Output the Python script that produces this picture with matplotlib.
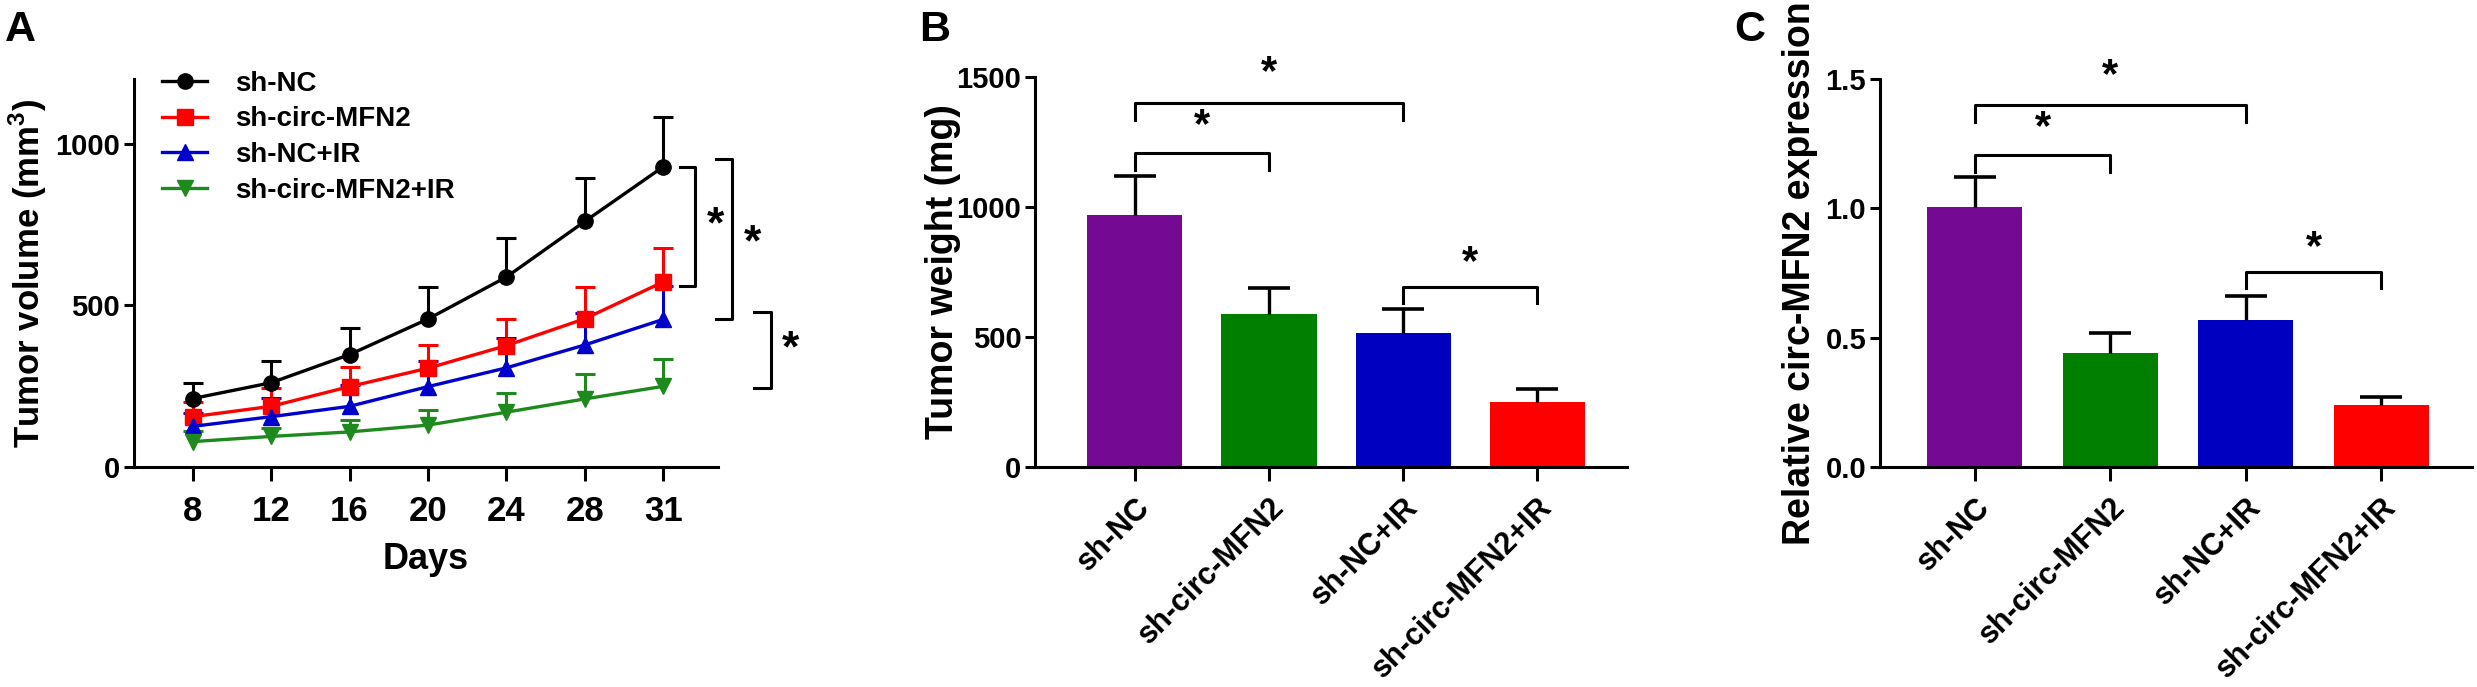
import matplotlib
matplotlib.use("Agg")
import matplotlib.pyplot as plt
from matplotlib.lines import Line2D

plt.rcParams["font.family"] = ["Liberation Sans", "DejaVu Sans"]
plt.rcParams["font.weight"] = "bold"
plt.rcParams["mathtext.fontset"] = "custom"
plt.rcParams["mathtext.rm"] = "Liberation Sans"
plt.rcParams["mathtext.bf"] = "Liberation Sans:bold"

# ---- panel A data: tumor volume over time ----
days = ["8", "12", "16", "20", "24", "28", "31"]
groups = ["sh-NC", "sh-circ-MFN2", "sh-NC+IR", "sh-circ-MFN2+IR"]

vol_nc = [212, 261, 348, 458, 588, 760, 929]
vol_nc_err = [48, 68, 81, 100, 121, 133, 153]
vol_mfn2 = [156, 188, 249, 306, 376, 459, 573]
vol_mfn2_err = [45, 57, 61, 73, 83, 99, 106]
vol_nc_ir = [126, 156, 188, 249, 307, 378, 457]
vol_nc_ir_err = [41, 59, 67, 78, 91, 98, 104]
vol_mfn2_ir = [79, 95, 109, 130, 170, 211, 250]
vol_mfn2_ir_err = [34, 27, 38, 48, 58, 78, 84]

# ---- panel B / C data ----
weight = [968, 590, 515, 251]
weight_err = [151, 98, 93, 49]
expr = [1.007, 0.44, 0.568, 0.24]
expr_err = [0.113, 0.08, 0.092, 0.033]

line_colors = ["black", "#FF0000", "#0000CC", "#1E8A1E"]
markers = ["o", "s", "^", "v"]
bar_colors = ["#740A93", "#007F00", "#0000C0", "#FF0000"]

fig = plt.figure(figsize=(24.77, 6.87), dpi=100)

axA = fig.add_axes([0.054, 0.320, 0.236, 0.565])
axB = fig.add_axes([0.418, 0.320, 0.239, 0.568])
axC = fig.add_axes([0.759, 0.320, 0.239, 0.565])


def style_axis(ax):
    for side in ["top", "right"]:
        ax.spines[side].set_visible(False)
    for side in ["left", "bottom"]:
        ax.spines[side].set_linewidth(2.2)
    ax.tick_params(axis="y", width=2.2, length=7, labelsize=21, pad=3)
    ax.tick_params(axis="x", width=2.2, length=10)


def upper_errorbar(ax, x, y, err, **kw):
    # only the upper half of the error bar, like GraphPad
    res = ax.errorbar(x, y, yerr=[[0] * len(err), err], **kw)
    caps = res[1]
    if len(caps) > 1:
        caps[0].set_visible(False)
    return res


def bracket(ax, x1, x2, y, leg, star_y, fs=30):
    ax.plot([x1, x1, x2, x2], [y - leg, y, y, y - leg],
            color="black", lw=2.2, clip_on=False)
    ax.text((x1 + x2) / 2, star_y, "*", ha="center", va="center",
            fontsize=fs, fontweight="bold")


# ---- panel A ----
xs = list(range(len(days)))
series = [
    (vol_nc, vol_nc_err),
    (vol_mfn2, vol_mfn2_err),
    (vol_nc_ir, vol_nc_ir_err),
    (vol_mfn2_ir, vol_mfn2_ir_err),
]
for (vals, errs), col, mk, name in zip(series, line_colors, markers, groups):
    upper_errorbar(axA, xs, vals, errs, color=col, ecolor=col,
                   elinewidth=2.2, capsize=7, capthick=2.2, lw=2.4,
                   marker=mk, markersize=11, label=name, clip_on=False,
                   zorder=3)

style_axis(axA)
axA.set_xlim(-0.75, 6.7)
axA.set_ylim(0, 1200)
axA.set_yticks([0, 500, 1000])
axA.set_xticks(xs)
axA.set_xticklabels(days)
axA.tick_params(axis="x", labelsize=25, pad=10)
axA.set_xlabel("Days", fontsize=26, fontweight="bold", labelpad=10)
axA.set_ylabel("Tumor volume (mm$^\\mathbf{3}$)", fontsize=25,
               fontweight="bold")
axA.yaxis.set_label_coords(-0.145, 0.5)

handles = [Line2D([0], [0], color=c, marker=m, lw=2.4, markersize=11)
           for c, m in zip(line_colors, markers)]
axA.legend(handles, groups, loc="upper left", bbox_to_anchor=(0.03, 1.05),
           frameon=False, fontsize=20, handlelength=1.6, handletextpad=1.0,
           labelspacing=0.35, borderaxespad=0)

# significance brackets to the right of panel A
bracket_a = [(6.21, 6.40, 929, 561, 6.66, 745),
             (6.67, 6.87, 952, 459, 7.14, 690),
             (7.16, 7.37, 480, 245, 7.62, 364)]
for xa, xb, ytop, ybot, sx, sy in bracket_a:
    axA.plot([xa, xb, xb, xa], [ytop, ytop, ybot, ybot], color="black",
             lw=2.2, clip_on=False)
    axA.text(sx, sy, "*", ha="center", va="center", fontsize=32,
             fontweight="bold")

fig.text(0.002, 0.985, "A", fontsize=31, fontweight="bold", va="top")

# ---- panel B ----
pos = list(range(len(groups)))
axB.bar(pos, weight, width=0.71, color=bar_colors, zorder=2)
upper_errorbar(axB, pos, weight, weight_err, fmt="none", ecolor="black",
               elinewidth=2.4, capsize=15, capthick=2.6, zorder=3)
style_axis(axB)
axB.set_xlim(-0.74, 3.67)
axB.set_ylim(0, 1500)
axB.set_yticks([0, 500, 1000, 1500])
axB.set_xticks(pos)
axB.set_xticklabels(groups, rotation=45, ha="right",
                    rotation_mode="anchor", fontsize=22)
axB.tick_params(axis="x", pad=8)
axB.set_ylabel("Tumor weight (mg)", fontsize=27, fontweight="bold")
axB.yaxis.set_label_coords(-0.125, 0.5)
bracket(axB, 0, 1, 1208, 64, 1310)
bracket(axB, 0, 2, 1400, 64, 1514)
bracket(axB, 2, 3, 692, 60, 785)
fig.text(0.371, 0.985, "B", fontsize=31, fontweight="bold", va="top")

# ---- panel C ----
axC.bar(pos, expr, width=0.70, color=bar_colors, zorder=2)
upper_errorbar(axC, pos, expr, expr_err, fmt="none", ecolor="black",
               elinewidth=2.4, capsize=15, capthick=2.6, zorder=3)
style_axis(axC)
axC.set_xlim(-0.70, 3.67)
axC.set_ylim(0, 1.5)
axC.set_yticks([0, 0.5, 1.0, 1.5])
axC.set_yticklabels(["0.0", "0.5", "1.0", "1.5"])
axC.set_xticks(pos)
axC.set_xticklabels(groups, rotation=45, ha="right",
                    rotation_mode="anchor", fontsize=22)
axC.tick_params(axis="x", pad=8)
axC.set_ylabel("Relative circ-MFN2 expression", fontsize=27,
               fontweight="bold")
axC.yaxis.set_label_coords(-0.105, 0.5)
bracket(axC, 0, 1, 1.206, 0.066, 1.31)
bracket(axC, 0, 2, 1.398, 0.063, 1.51)
bracket(axC, 2, 3, 0.754, 0.062, 0.847)
fig.text(0.700, 0.985, "C", fontsize=31, fontweight="bold", va="top")

fig.savefig("out.png", dpi=100)
